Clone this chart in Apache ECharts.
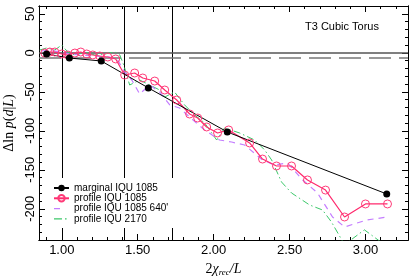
<!DOCTYPE html>
<html><head><meta charset="utf-8">
<script src="https://cdn.jsdelivr.net/npm/echarts@6/dist/echarts.min.js"></script>
<style>html,body{margin:0;padding:0;background:#fff}#c{width:415px;height:277px}</style>
</head><body><div id="c"></div>
<script>
// ---- data ----
const xMarginal = [0.90, 1.05, 1.26, 1.57, 2.09, 3.14];
const yMarginal = [-1.5, -6.7, -10.5, -45, -101.5, -181];

const xProfile = [0.888,0.921,0.954,1.000,1.039,1.086,1.125,1.164,1.204,1.250,1.303,1.355,1.414,1.480,1.533,1.612,1.678,1.757,1.842,1.895,1.954,2.026,2.099,2.237,2.322,2.414,2.513,2.618,2.737,2.862,3.000,3.145];
const yProfile = [-0.3,1.0,1.0,-1.5,-2.8,-0.3,1.0,-1.5,-2.8,-4.1,-5.4,-7.9,-28.5,-25.9,-32.3,-36.2,-47.7,-60.5,-78.5,-83.6,-95.1,-102.8,-98.9,-115.6,-136.2,-145.1,-145.1,-163,-176,-210.5,-193.8,-193.8];

const xProfile640 = [0.868,0.921,0.987,1.053,1.118,1.217,1.316,1.368,1.414,1.461,1.513,1.579,1.645,1.711,1.776,1.842,1.941,2.039,2.118,2.204,2.322,2.401,2.487,2.586,2.684,2.783,2.862,3.007,3.145];
const yProfile640 = [2.3,3.6,1.0,-1.5,-2.8,-4.1,-5.4,-9.2,-24.6,-34.9,-52.8,-41.3,-50.3,-66.9,-70.8,-82.3,-99,-111.8,-114.4,-118.2,-137.4,-143.8,-141.3,-163,-179.7,-210.5,-223.3,-214.4,-210.5];

const xProfile2170 = [0.855,0.901,0.954,1.000,1.039,1.086,1.151,1.217,1.283,1.349,1.382,1.408,1.447,1.513,1.579,1.645,1.678,1.743,1.809,1.875,1.941,2.020,2.072,2.171,2.270,2.336,2.382,2.447,2.513,2.632,2.717,2.776,2.862,2.993,3.125];
const yProfile2170 = [3.6,6.2,3.6,10.0,1.0,-2.8,1.0,-2.8,-1.5,1.0,-2.8,-15.6,-41.3,-34.9,-41.3,-47.7,-56.7,-50.3,-66.9,-79.7,-90,-111.8,-96.4,-102.8,-111.8,-124.6,-137.4,-165.6,-179.7,-195.1,-201.5,-216.9,-246,-227,-246];

const xMajorTicks = [1.0, 1.5, 2.0, 2.5, 3.0];
const xMinorTicks = [0.9,1.1,1.2,1.3,1.4,1.6,1.7,1.8,1.9,2.1,2.2,2.3,2.4,2.6,2.7,2.8,2.9,3.1,3.2];
const yMajorTicks = [-200, -150, -100, -50, 0, 50];
const yMinorTicks = [-230,-220,-210,-190,-180,-170,-160,-140,-130,-120,-110,-90,-80,-70,-60,-40,-30,-20,-10,10,20,30,40];
const vLines = [1.0, 1.4142, 1.7321];
const zeroLine = 0;
const dashedLevel = -6;

const XMIN = 0.85, XMAX = 3.28, YMIN = -240, YMAX = 60;
const pair = (xs, ys) => xs.map((x, i) => [x, ys[i]]);

const FONT = 'Liberation Sans';
const SERIF = 'Liberation Serif';

function xAx(pos, ticks, len, showLabel) {
  return {
    type: 'value', position: pos, min: XMIN, max: XMAX,
    axisLine: { show: true, onZero: false, lineStyle: { color: '#000', width: 1 } },
    axisTick: { show: true, inside: true, length: len, customValues: ticks, lineStyle: { color: '#000' } },
    axisLabel: showLabel ? { show: true, customValues: ticks, formatter: v => v.toFixed(2), color: '#000', fontFamily: FONT, fontSize: 13, margin: 4 } : { show: false },
    splitLine: { show: false }
  };
}
function yAx(pos, ticks, len, showLabel) {
  return {
    type: 'value', position: pos, min: YMIN, max: YMAX,
    axisLine: { show: true, onZero: false, lineStyle: { color: '#000', width: 1 } },
    axisTick: { show: true, inside: true, length: len, customValues: ticks, lineStyle: { color: '#000' } },
    axisLabel: showLabel ? { show: true, customValues: ticks, rotate: 90, color: '#000', fontFamily: FONT, fontSize: 13, margin: 2 } : { show: false },
    splitLine: { show: false }
  };
}

const xAxes = [xAx('bottom', xMajorTicks, 6, true), xAx('bottom', xMinorTicks, 3, false), xAx('top', xMajorTicks, 6, false), xAx('top', xMinorTicks, 3, false)];
xAxes[0].name = '{n|2}{i|χ}{s|rec}{i|/L}';
xAxes[0].nameLocation = 'middle';
xAxes[0].nameGap = 18;
xAxes[0].nameTextStyle = {
  rich: {
    n: { fontFamily: SERIF, fontSize: 14, color: '#000', lineHeight: 15, verticalAlign: 'top' },
    i: { fontFamily: SERIF, fontStyle: 'italic', fontSize: 14, color: '#000', lineHeight: 15, verticalAlign: 'top' },
    s: { fontFamily: SERIF, fontStyle: 'italic', fontSize: 9, color: '#000', lineHeight: 15, verticalAlign: 'bottom' }
  }
};
const yAxes = [yAx('left', yMajorTicks, 6, true), yAx('left', yMinorTicks, 3, false), yAx('right', yMajorTicks, 6, false), yAx('right', yMinorTicks, 3, false)];
yAxes[0].name = '{r|Δln }{i|p}{r|(}{i|d}{r||}{i|L}{r|)}';
yAxes[0].nameLocation = 'middle';
yAxes[0].nameGap = 20;
yAxes[0].nameRotate = 90;
yAxes[0].nameTextStyle = {
  rich: {
    r: { fontFamily: SERIF, fontSize: 14, color: '#000' },
    i: { fontFamily: SERIF, fontStyle: 'italic', fontSize: 14, color: '#000' }
  }
};

const COL_GREEN = '#3cc86a', COL_PURPLE = '#c47dff', COL_PINK = '#ff2a6d';
// legend icons (bounding specks at corners keep the 15x8 box unscaled)
const ICON_DASH = 'path://M0,0h0.05v0.05h-0.05z M0,3.4h6v1.2h-6z M14.95,7.95h0.05v0.05h-0.05z';
const ICON_DASHDOT = 'path://M0,0h0.05v0.05h-0.05z M0,3.4h8v1.2h-8z M11,3.4h1.6v1.2h-1.6z M14.95,7.95h0.05v0.05h-0.05z';

const chart = echarts.init(document.getElementById('c'), null, { renderer: 'canvas' });
chart.setOption({
  animation: false,
  backgroundColor: '#fff',
  grid: { left: 39, right: 7, top: 6, bottom: 37, containLabel: false, outerBoundsMode: 'none' },
  title: { text: 'T3 Cubic Torus', left: 305, top: 21, padding: 0, textStyle: { fontFamily: FONT, fontSize: 11, fontWeight: 'normal', color: '#000' } },
  legend: {
    orient: 'vertical', left: 48, top: 178, padding: [5, 12, 4, 5], z: 10,
    backgroundColor: '#fff', itemWidth: 15, itemHeight: 8, itemGap: 0.3,
    textStyle: { fontFamily: FONT, fontSize: 10, lineHeight: 10, color: '#000' },
    data: [
      { name: 'marginal IQU 1085' },
      { name: 'profile IQU 1085' },
      { name: "profile IQU 1085 640'", icon: ICON_DASH, itemStyle: { color: COL_PURPLE } },
      { name: 'profile IQU 2170', icon: ICON_DASHDOT, itemStyle: { color: COL_GREEN } }
    ]
  },
  xAxis: xAxes,
  yAxis: yAxes,
  series: [
    {
      name: 'profile IQU 2170', type: 'line', data: pair(xProfile2170, yProfile2170),
      symbol: 'none', clip: true, z: 2,
      lineStyle: { color: COL_GREEN, width: 1, type: [7, 3, 1.5, 3] },
      itemStyle: { color: COL_GREEN },
      markLine: {
        silent: true, symbol: 'none', label: { show: false }, animation: false, z: 1,
        data: vLines.map(v => ({ xAxis: v, lineStyle: { color: '#000', width: 1, type: 'solid' } }))
          .concat([
            { yAxis: zeroLine, lineStyle: { color: '#555', width: 1.5, type: 'solid' } },
            { yAxis: dashedLevel, lineStyle: { color: '#777', width: 1.5, type: [22, 8] } }
          ])
      }
    },
    {
      name: "profile IQU 1085 640'", type: 'line', data: pair(xProfile640, yProfile640),
      symbol: 'none', clip: true, z: 2,
      lineStyle: { color: COL_PURPLE, width: 1.2, type: [6, 5] },
      itemStyle: { color: COL_PURPLE }
    },
    {
      name: 'profile IQU 1085', type: 'line', data: pair(xProfile, yProfile),
      symbol: 'circle', symbolSize: 8, clip: true, z: 2,
      lineStyle: { color: COL_PINK, width: 1.2 },
      itemStyle: { color: 'rgba(255,255,255,0)', borderColor: '#ff3a78', borderWidth: 1 }
    },
    {
      name: 'marginal IQU 1085', type: 'line', data: pair(xMarginal, yMarginal),
      symbol: 'circle', symbolSize: 7, clip: true, z: 2,
      lineStyle: { color: '#000', width: 1 },
      itemStyle: { color: '#000' }
    }
  ]
});
</script>
</body></html>
